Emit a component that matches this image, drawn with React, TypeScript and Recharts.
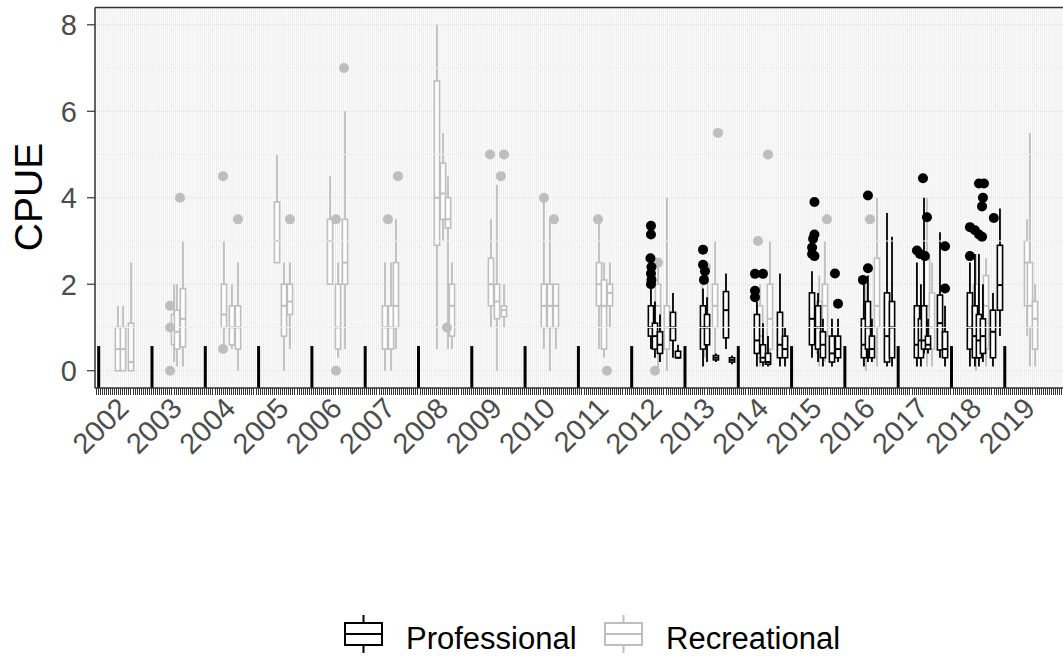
import React from 'react';
import { ComposedChart, Bar, Scatter, XAxis, YAxis, CartesianGrid, ReferenceLine } from 'recharts';

// ---------- data ----------
const years = [2002, 2003, 2004, 2005, 2006, 2007, 2008, 2009, 2010, 2011, 2012, 2013, 2014, 2015, 2016, 2017, 2018, 2019];
const yTicks = [0, 2, 4, 6, 8];
const yMinorTicks = [1, 3, 5, 7];
const yearMarkerTop = 0.57;
const labelWeek = 31;
const weeksPerYear = 52;

// [year, week, min, q1, median, q3, max]
const recreationalBoxes: number[][] = [
  [2002, 18.8, 0, 0, 0.5, 1.0, 1.5], [2002, 23.7, 0, 0, 0.5, 1.0, 1.5], [2002, 31.5, 0, 0, 0.2, 1.1, 2.5],
  [2003, 21.5, 0.2, 0.6, 1.0, 1.3, 2.0], [2003, 24.4, 0.1, 0.5, 0.9, 1.4, 2.0], [2003, 30.2, 0.1, 0.55, 1.2, 1.9, 3.0],
  [2004, 18.2, 0.6, 1.0, 1.3, 2.0, 3.0], [2004, 26.0, 0.5, 0.6, 1.0, 1.5, 2.0], [2004, 31.9, 0, 0.5, 1.0, 1.5, 2.5],
  [2005, 18.0, 2.5, 2.5, 3.0, 3.9, 5.0], [2005, 24.8, 0, 0.8, 1.5, 2.0, 2.5], [2005, 30.6, 0.5, 1.3, 1.6, 2.0, 2.5],
  [2006, 17.7, 2.0, 2.0, 3.0, 3.5, 4.5], [2006, 25.5, 0.3, 0.5, 1.0, 2.0, 2.5], [2006, 32.3, 0.5, 2.0, 2.5, 3.5, 6.0],
  [2007, 19.3, 0, 0.5, 1.0, 1.5, 2.5], [2007, 25.2, 0, 0.5, 1.0, 1.5, 2.5], [2007, 30.0, 0.5, 1.0, 1.5, 2.5, 3.5],
  [2008, 18.0, 0.5, 2.9, 4.0, 6.7, 8.0], [2008, 23.9, 3.0, 3.5, 4.1, 4.8, 5.5], [2008, 28.8, 0.5, 3.3, 3.5, 4.0, 4.5], [2008, 32.7, 0.5, 0.8, 1.5, 2.0, 2.5],
  [2009, 18.7, 1.0, 1.5, 2.0, 2.6, 3.5], [2009, 24.6, 0, 1.2, 1.6, 2.0, 4.3], [2009, 31.4, 1.0, 1.25, 1.4, 1.5, 2.0],
  [2010, 18.4, 0.5, 1.0, 1.5, 2.0, 3.9], [2010, 24.3, 0, 1.0, 1.5, 2.0, 3.5], [2010, 30.1, 0.5, 1.0, 1.5, 2.0, 2.0],
  [2011, 20.1, 0.5, 1.5, 2.0, 2.5, 3.5], [2011, 25.0, 0.3, 0.5, 1.5, 2.1, 2.5], [2011, 30.8, 1.0, 1.5, 1.8, 2.0, 2.5],
  [2012, 25.7, 0, 0.9, 1.5, 2.0, 2.5], [2012, 34.4, 0, 0.5, 1.0, 1.5, 4.0],
  [2013, 19.5, 0.3, 1.0, 1.5, 2.2, 2.5], [2013, 29.3, 0.3, 1.0, 1.5, 2.0, 3.0],
  [2014, 21.2, 0.1, 0.3, 0.8, 1.5, 2.0], [2014, 30.9, 0.1, 0.5, 1.2, 2.0, 3.0],
  [2015, 27.0, 0.1, 0.4, 1.0, 1.6, 2.2], [2015, 32.6, 0.2, 0.8, 1.5, 2.0, 3.0],
  [2016, 20.6, 0, 0.3, 0.8, 1.5, 2.0], [2016, 31.3, 0.1, 1.0, 1.5, 2.6, 4.0],
  [2017, 28.1, 0.1, 0.8, 1.5, 2.6, 4.0], [2017, 33.0, 0.1, 0.5, 1.0, 1.8, 2.5],
  [2018, 23.9, 0, 0.3, 1.0, 2.0, 2.7], [2018, 33.7, 0.1, 0.5, 1.5, 2.2, 2.6],
  [2019, 21.7, 0.8, 1.5, 2.5, 3.0, 3.5], [2019, 24.6, 0.1, 1.0, 1.5, 2.5, 5.5], [2019, 29.5, 0.1, 0.5, 1.2, 1.6, 2.0],
];

const professionalBoxes: number[][] = [
  [2012, 18.8, 0.5, 0.8, 1.0, 1.5, 1.9], [2012, 22.7, 0.3, 0.5, 0.8, 1.1, 1.6], [2012, 27.6, 0.2, 0.4, 0.6, 0.9, 1.3], [2012, 40.3, 0.3, 0.7, 1.0, 1.35, 1.8], [2012, 45.2, 0.3, 0.3, 0.3, 0.45, 0.6],
  [2013, 17.6, 0.1, 0.5, 1.0, 1.5, 1.9], [2013, 21.5, 0.2, 0.6, 1.0, 1.3, 1.7], [2013, 30.2, 0.2, 0.25, 0.3, 0.35, 0.4], [2013, 40.0, 0.5, 0.76, 1.4, 1.83, 2.25], [2013, 45.9, 0.15, 0.2, 0.25, 0.3, 0.35],
  [2014, 18.2, 0.1, 0.4, 0.7, 1.3, 1.6], [2014, 24.1, 0.1, 0.2, 0.3, 0.6, 1.1], [2014, 29.0, 0.1, 0.15, 0.2, 0.4, 0.8], [2014, 40.7, 0.1, 0.3, 0.6, 1.35, 2.25], [2014, 45.6, 0.1, 0.3, 0.5, 0.8, 1.0],
  [2015, 19.9, 0.3, 0.6, 1.2, 1.8, 2.3], [2015, 25.8, 0.2, 0.5, 1.0, 1.5, 1.8], [2015, 30.6, 0.1, 0.3, 0.6, 0.9, 1.2], [2015, 39.4, 0.1, 0.2, 0.4, 0.8, 1.2], [2015, 45.3, 0.2, 0.3, 0.5, 0.8, 1.2],
  [2016, 18.6, 0.1, 0.3, 0.6, 1.2, 2.0], [2016, 22.5, 0.2, 0.5, 1.0, 1.6, 2.2], [2016, 26.4, 0.2, 0.3, 0.5, 0.8, 1.2], [2016, 41.1, 0.1, 0.2, 0.8, 1.8, 3.65], [2016, 46.0, 0.1, 0.3, 1.0, 1.6, 3.1],
  [2017, 18.3, 0.1, 0.3, 0.6, 1.5, 2.5], [2017, 22.2, 0.1, 0.3, 0.7, 1.2, 2.0], [2017, 25.2, 0.4, 0.5, 0.7, 1.5, 4.0], [2017, 29.1, 0.4, 0.5, 0.6, 0.8, 1.2], [2017, 40.8, 0.3, 0.48, 1.1, 1.75, 3.2], [2017, 45.7, 0.1, 0.3, 0.5, 0.9, 1.5],
  [2018, 18.0, 0.1, 0.5, 1.0, 1.8, 2.5], [2018, 22.9, 0.1, 0.3, 0.8, 1.5, 2.7], [2018, 26.8, 0.1, 0.3, 0.7, 1.3, 2.7], [2018, 30.7, 0.2, 0.4, 0.8, 1.2, 2.0], [2018, 40.5, 0.1, 0.3, 0.9, 1.4, 1.8], [2018, 47.3, 0.8, 1.4, 1.98, 2.9, 3.75],
];

// [year, week, value]
const recreationalOutliers: number[][] = [
  [2003, 17.6, 1.5], [2003, 17.6, 1.0], [2003, 17.6, 0.0], [2003, 27.3, 4.0],
  [2004, 17.3, 4.5], [2004, 17.3, 0.5], [2004, 31.9, 3.5],
  [2005, 30.6, 3.5],
  [2006, 23.5, 3.5], [2006, 23.5, 0.0], [2006, 31.3, 7.0],
  [2007, 22.2, 3.5], [2007, 32.0, 4.5],
  [2008, 27.8, 1.0],
  [2009, 17.8, 5.0], [2009, 31.4, 5.0], [2009, 28.3, 4.5],
  [2010, 18.4, 4.0], [2010, 28.2, 3.5],
  [2011, 19.1, 3.5], [2011, 27.9, 0.0],
  [2012, 22.7, 0.0], [2012, 25.7, 2.5],
  [2013, 32.2, 5.5], [2013, 20.5, 2.4],
  [2014, 19.2, 3.0], [2014, 29.0, 5.0],
  [2015, 34.5, 3.5],
  [2016, 24.5, 3.5],
];

const professionalOutliers: number[][] = [
  [2012, 18.8, 3.35], [2012, 18.8, 3.15], [2012, 18.3, 2.6], [2012, 19.3, 2.4], [2012, 18.8, 2.25], [2012, 19.3, 2.1], [2012, 18.8, 2.0],
  [2013, 17.6, 2.8], [2013, 17.6, 2.45], [2013, 19.5, 2.3], [2013, 18.5, 2.1],
  [2014, 16.3, 2.24], [2014, 24.1, 2.24], [2014, 16.3, 1.85], [2014, 16.3, 1.7],
  [2015, 22.3, 3.9], [2015, 22.3, 3.15], [2015, 21.0, 3.05], [2015, 20.0, 2.85], [2015, 20.0, 2.7], [2015, 22.3, 2.65], [2015, 42.3, 2.25], [2015, 45.3, 1.55],
  [2016, 22.5, 4.05], [2016, 22.5, 2.37], [2016, 17.6, 2.1],
  [2017, 24.2, 4.45], [2017, 28.1, 3.55], [2017, 18.3, 2.78], [2017, 21.3, 2.7], [2017, 26.1, 2.65], [2017, 45.7, 2.88], [2017, 45.7, 1.9],
  [2018, 18.0, 3.32], [2018, 26.8, 4.33], [2018, 31.7, 4.33], [2018, 30.7, 4.0], [2018, 29.8, 3.8], [2018, 22.9, 3.25], [2018, 26.8, 3.15], [2018, 29.8, 3.1], [2018, 18.0, 2.65], [2018, 41.3, 3.53],
];

// ---------- derived ----------
const firstYear = years[0];
const toX = (year: number, week: number) => (year - firstYear) * weeksPerYear + week;

const PRO = '#000000';
const REC = '#BEBEBE';
const FONT = '"Liberation Sans", Arial, Helvetica, sans-serif';

const boxData = [
  ...recreationalBoxes.map((r) => ({ x: toX(r[0], r[1]), min: r[2], q1: r[3], med: r[4], q3: r[5], max: r[6], type: 'Recreational' })),
  ...professionalBoxes.map((r) => ({ x: toX(r[0], r[1]), min: r[2], q1: r[3], med: r[4], q3: r[5], max: r[6], type: 'Professional' })),
];
const recOutData = recreationalOutliers.map((r) => ({ x: toX(r[0], r[1]), v: r[2] }));
const proOutData = professionalOutliers.map((r) => ({ x: toX(r[0], r[1]), v: r[2] }));

const xMin = -3.61;
const xMax = 976.9;
const xTicks: number[] = [];
for (let t = -3; t <= 975; t += 2) xTicks.push(t);

const BOX_HALF = 2.6;

const BoxShape = (props: any) => {
  const { x, y, width, height, payload } = props;
  if (!payload || x == null || y == null) return null;
  const color = payload.type === 'Professional' ? PRO : REC;
  const cx = x + (width || 0) / 2;
  const top = Math.min(y, y + height);
  const bottom = Math.max(y, y + height);
  const span = payload.max - payload.min;
  const py = (v: number) => (span > 0 ? bottom - ((v - payload.min) / span) * (bottom - top) : bottom);
  const yq1 = py(payload.q1);
  const yq3 = py(payload.q3);
  const ymed = py(payload.med);
  return (
    <g>
      <line x1={cx} x2={cx} y1={py(payload.max)} y2={yq3} stroke={color} strokeWidth={1.8} />
      <line x1={cx} x2={cx} y1={yq1} y2={py(payload.min)} stroke={color} strokeWidth={1.8} />
      <rect x={cx - BOX_HALF} y={yq3} width={BOX_HALF * 2} height={Math.max(yq1 - yq3, 0.5)} fill="#ffffff" stroke={color} strokeWidth={1.6} />
      <line x1={cx - BOX_HALF} x2={cx + BOX_HALF} y1={ymed} y2={ymed} stroke={color} strokeWidth={2} />
    </g>
  );
};

const dot = (color: string) => (props: any) => {
  const { cx, cy } = props;
  if (cx == null || cy == null) return null;
  return <circle cx={cx} cy={cy} r={5} fill={color} />;
};

const XTick = (props: any) => {
  const { x, y, payload } = props;
  const v = payload.value;
  const rel = v - labelWeek;
  const isLabel = rel >= 0 && rel % weeksPerYear === 0;
  const year = firstYear + rel / weeksPerYear;
  const ly = y + 22;
  const tx = Math.round(x) + 0.5;
  return (
    <g>
      <line x1={tx} x2={tx} y1={y} y2={y + 7} stroke="#333333" strokeWidth={1} />
      {isLabel && years.includes(year) && (
        <text x={x} y={ly} textAnchor="end" transform={`rotate(-45 ${x} ${ly})`} fontSize={29} fill="#4D4D4D" fontFamily={FONT}>
          {year}
        </text>
      )}
    </g>
  );
};

export default function App() {
  return (
    <div style={{ position: 'fixed', left: 0, top: 0, width: 1063, height: 659, overflow: 'hidden', background: '#ffffff' }}>
      <ComposedChart width={1100} height={659} data={boxData} margin={{ top: 7.5, right: 0, bottom: 0, left: 0 }}>
        <CartesianGrid stroke="#EBEBEB" strokeWidth={1} />
        {yMinorTicks.map((t) => (
          <ReferenceLine key={'m' + t} y={t} stroke="#F0F0F0" strokeWidth={1} />
        ))}
        <XAxis
          dataKey="x"
          type="number"
          domain={[xMin, xMax]}
          allowDataOverflow
          ticks={xTicks}
          interval={0}
          tick={<XTick />}
          tickLine={false}
          tickSize={0}
          tickMargin={0}
          height={271}
          axisLine={{ stroke: '#333333', strokeWidth: 1.5 }}
        />
        <YAxis
          type="number"
          domain={[-0.4, 8.4]}
          allowDataOverflow
          ticks={yTicks}
          width={95}
          tickSize={8}
          tickMargin={10}
          tick={{ fontSize: 29, fill: '#4D4D4D', fontFamily: FONT }}
          tickLine={{ stroke: '#333333', strokeWidth: 1.2 }}
          axisLine={{ stroke: '#333333', strokeWidth: 1.5 }}
        />
        <ReferenceLine y={8.4} stroke="#333333" strokeWidth={1.5} />
        <Bar dataKey={(d: any) => [d.min, d.max]} barSize={5} shape={BoxShape} isAnimationActive={false} />
        <Scatter data={recOutData} dataKey="v" shape={dot(REC)} isAnimationActive={false} />
        <Scatter data={proOutData} dataKey="v" shape={dot(PRO)} isAnimationActive={false} />
        {years.map((yr) => (
          <ReferenceLine
            key={'yr' + yr}
            segment={[{ x: toX(yr, 0), y: -0.4 }, { x: toX(yr, 0), y: yearMarkerTop }]}
            stroke="#000000"
            strokeWidth={3}
          />
        ))}
      </ComposedChart>
      <svg width={1063} height={659} style={{ position: 'absolute', left: 0, top: 0, pointerEvents: 'none' }}>
        <text x={42} y={197} transform="rotate(-90 42 197)" textAnchor="middle" fontSize={39} fill="#000000" fontFamily={FONT}>
          CPUE
        </text>
        <g>
          <line x1={363.5} x2={363.5} y1={615} y2={623} stroke={PRO} strokeWidth={2} />
          <line x1={363.5} x2={363.5} y1={645} y2={653} stroke={PRO} strokeWidth={2} />
          <rect x={345} y={623} width={37} height={22} fill="#ffffff" stroke={PRO} strokeWidth={2} />
          <line x1={345} x2={382} y1={634} y2={634} stroke={PRO} strokeWidth={2} />
          <text x={406} y={649} fontSize={31} fill="#000000" fontFamily={FONT}>Professional</text>
        </g>
        <g>
          <line x1={623.5} x2={623.5} y1={615} y2={623} stroke={REC} strokeWidth={2} />
          <line x1={623.5} x2={623.5} y1={645} y2={653} stroke={REC} strokeWidth={2} />
          <rect x={605} y={623} width={37} height={22} fill="#ffffff" stroke={REC} strokeWidth={2} />
          <line x1={605} x2={642} y1={634} y2={634} stroke={REC} strokeWidth={2} />
          <text x={666} y={649} fontSize={31} fill="#000000" fontFamily={FONT}>Recreational</text>
        </g>
      </svg>
    </div>
  );
}
